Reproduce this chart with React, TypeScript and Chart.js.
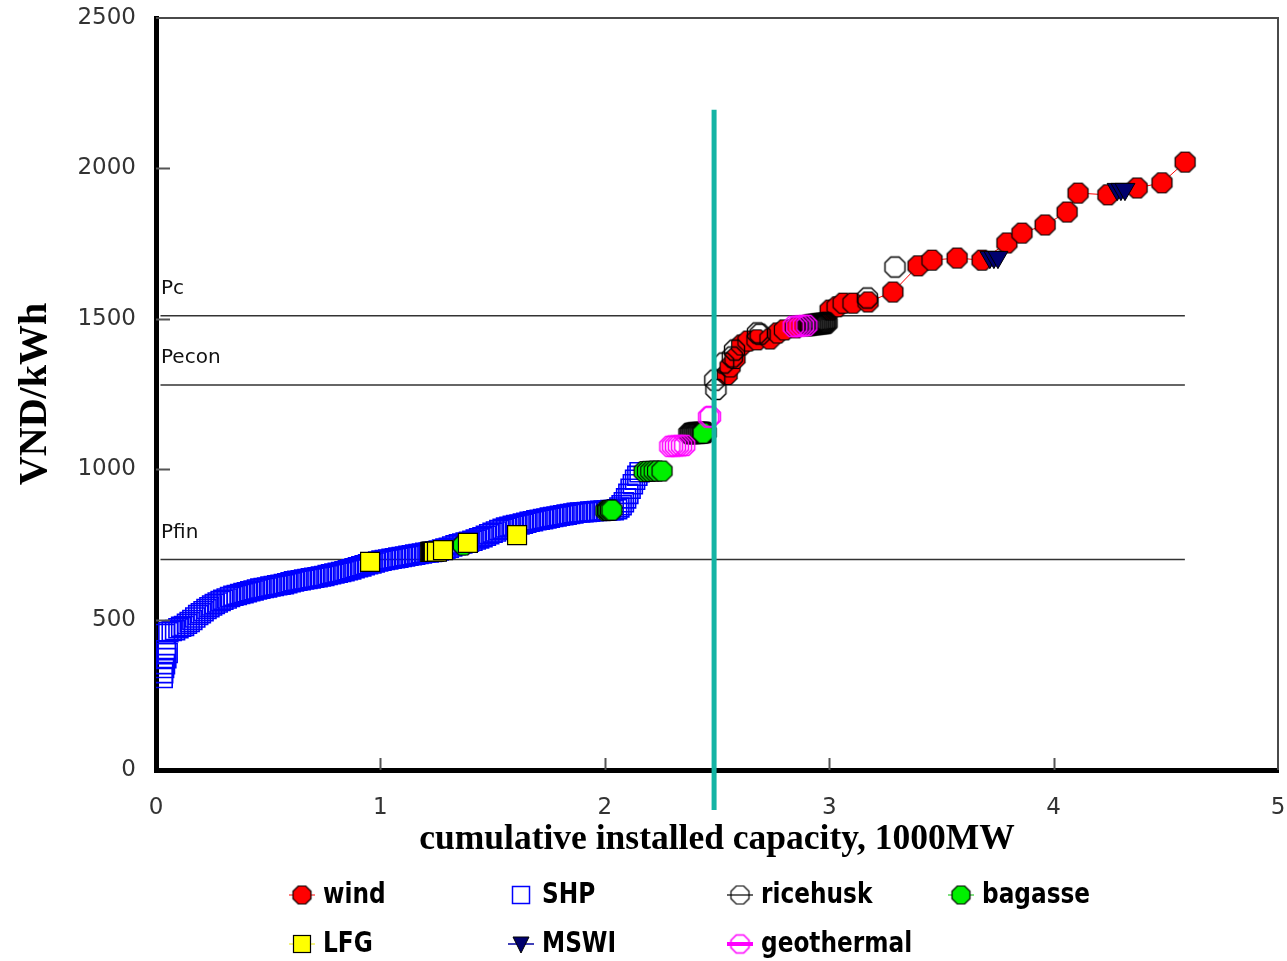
import React, { useEffect, useRef } from "react";
import { Chart, registerables } from "chart.js";

Chart.register(...registerables);

type Pair = [number, number];

// Axis ticks
const xTickValues = [0, 1, 2, 3, 4, 5];
const yTickValues = [0, 500, 1000, 1500, 2000, 2500];

// Supply curve points: [cumulative capacity (1000MW), cost (VND/kWh)]
const shp: Pair[] = [
  [0.030, 306], [0.032, 322], [0.036, 339], [0.040, 352], [0.046, 372], [0.052, 389], [0.044, 398], [0.040, 452], [0.055, 458],
  [0.070, 462], [0.085, 465], [0.100, 471], [0.112, 476], [0.125, 479], [0.138, 486], [0.150, 492], [0.162, 499], [0.175, 507],
  [0.188, 515], [0.200, 521], [0.212, 528], [0.225, 535], [0.238, 541], [0.250, 547], [0.262, 552], [0.275, 557], [0.288, 562],
  [0.300, 566], [0.315, 570], [0.330, 575], [0.345, 579], [0.360, 582], [0.375, 585], [0.390, 588], [0.405, 591], [0.420, 594],
  [0.435, 597], [0.450, 600], [0.465, 603], [0.480, 605], [0.495, 607], [0.510, 610], [0.525, 612], [0.540, 614], [0.555, 616],
  [0.570, 618], [0.585, 621], [0.600, 624], [0.615, 627], [0.630, 629], [0.645, 631], [0.660, 633], [0.675, 635], [0.690, 637],
  [0.705, 639], [0.720, 641], [0.735, 643], [0.750, 645], [0.765, 648], [0.780, 651], [0.795, 653], [0.810, 656], [0.825, 658],
  [0.840, 661], [0.855, 664], [0.870, 667], [0.885, 671], [0.900, 674], [0.915, 677], [0.930, 681], [0.945, 684], [0.960, 687],
  [0.975, 690], [0.990, 693], [1.005, 696], [1.020, 698], [1.035, 700], [1.050, 702], [1.065, 704], [1.080, 706], [1.095, 708],
  [1.110, 710], [1.125, 712], [1.140, 714], [1.155, 716], [1.170, 718], [1.185, 720], [1.200, 722], [1.215, 723], [1.230, 725],
  [1.245, 727], [1.260, 730], [1.275, 733], [1.290, 736], [1.305, 739], [1.320, 743], [1.335, 747], [1.350, 750], [1.365, 753],
  [1.380, 756], [1.395, 759], [1.410, 762], [1.425, 766], [1.440, 770], [1.455, 774], [1.470, 779], [1.485, 784], [1.500, 789],
  [1.515, 793], [1.530, 798], [1.545, 802], [1.560, 806], [1.575, 809], [1.590, 812], [1.605, 814], [1.620, 816], [1.635, 819],
  [1.650, 822], [1.665, 825], [1.680, 827], [1.695, 830], [1.710, 832], [1.725, 834], [1.740, 836], [1.755, 839], [1.770, 841],
  [1.785, 843], [1.800, 845], [1.815, 847], [1.830, 849], [1.845, 851], [1.860, 853], [1.875, 855], [1.890, 856], [1.905, 857],
  [1.920, 858], [1.935, 859], [1.950, 860], [1.965, 861], [1.980, 862], [1.995, 863], [2.010, 863], [2.025, 864], [2.040, 864],
  [2.055, 867], [2.065, 873], [2.075, 880], [2.085, 890], [2.095, 903], [2.105, 918], [2.115, 935], [2.125, 950], [2.135, 965],
  [2.145, 978], [2.155, 990],
];

const lfg: Pair[] = [
  [0.954, 692], [1.222, 725], [1.226, 725], [1.230, 725], [1.234, 725], [1.238, 725], [1.252, 726], [1.279, 731], [1.390, 755], [1.609, 781],
];

const bagasse: Pair[] = [
  [1.370, 748], [2.005, 862], [2.012, 863], [2.018, 863], [2.025, 864], [2.032, 864],
  [2.175, 992], [2.190, 993], [2.205, 993], [2.220, 994], [2.235, 994], [2.255, 994], [2.438, 1120],
];

const ricehusk: Pair[] = [
  [2.375, 1119], [2.380, 1119], [2.384, 1119], [2.389, 1120], [2.393, 1120], [2.398, 1120], [2.402, 1120], [2.407, 1120],
  [2.411, 1121], [2.416, 1121], [2.420, 1121], [2.425, 1121], [2.429, 1121], [2.434, 1122], [2.438, 1122], [2.443, 1122],
  [2.447, 1122], [2.451, 1122],
  [2.490, 1296], [2.495, 1265], [2.530, 1353], [2.568, 1373], [2.578, 1396], [2.680, 1453], [2.692, 1449],
  [2.901, 1478], [2.906, 1478], [2.910, 1479], [2.915, 1479], [2.919, 1480], [2.924, 1480], [2.928, 1481], [2.933, 1481],
  [2.937, 1482], [2.942, 1482], [2.946, 1482], [2.951, 1483], [2.955, 1483], [2.960, 1484], [2.964, 1484], [2.969, 1484],
  [2.973, 1485], [2.978, 1485], [2.982, 1486], [2.986, 1486], [2.990, 1486],
  [3.170, 1569], [3.293, 1672],
];

const geothermal: Pair[] = [
  [2.290, 1076], [2.302, 1077], [2.315, 1077], [2.328, 1078], [2.342, 1078], [2.356, 1079], [2.463, 1173], [2.470, 1175],
  [2.840, 1474], [2.855, 1475], [2.870, 1476], [2.885, 1477], [2.900, 1478],
];

const wind: Pair[] = [
  [2.545, 1315], [2.558, 1340], [2.580, 1368], [2.610, 1413], [2.638, 1426], [2.678, 1430], [2.736, 1433], [2.770, 1453],
  [2.800, 1463], [2.850, 1470], [3.004, 1529], [3.035, 1540], [3.062, 1552], [3.106, 1552], [3.173, 1556], [3.284, 1589],
  [3.396, 1676], [3.458, 1695], [3.570, 1702], [3.681, 1695], [3.792, 1752], [3.859, 1785], [3.962, 1812], [4.060, 1855],
  [4.109, 1918], [4.242, 1912], [4.372, 1935], [4.483, 1952], [4.586, 2021],
];

const mswi: Pair[] = [
  [3.716, 1705], [3.734, 1705], [3.752, 1705], [4.283, 1931], [4.300, 1931], [4.318, 1931],
];

// Reference price levels
const priceNames = ["Pc", "Pecon", "Pfin"];
const priceLevels = [1510, 1280, 700];
const priceLineCapacity = [0.02, 4.585];

// Cut-off capacity marker
const cutoffCapacity = 2.487;
const cutoffCostRange = [-133, 2195];

const toPoints = (pairs: Pair[]) => pairs.map(([x, y]) => ({ x, y }));

function octagon(fill: string | null, stroke: string, lineWidth: number, d: number) {
  const s = Math.ceil(d + 5);
  const c = document.createElement("canvas");
  c.width = s;
  c.height = s;
  const g = c.getContext("2d")!;
  const r = d / 2 / Math.cos(Math.PI / 8);
  g.beginPath();
  for (let k = 0; k < 8; k++) {
    const a = Math.PI / 8 + (k * Math.PI) / 4;
    const px = s / 2 + r * Math.cos(a);
    const py = s / 2 + r * Math.sin(a);
    if (k === 0) g.moveTo(px, py);
    else g.lineTo(px, py);
  }
  g.closePath();
  if (fill) {
    g.fillStyle = fill;
    g.fill();
  }
  g.strokeStyle = stroke;
  g.lineWidth = lineWidth;
  g.stroke();
  return c;
}

// keep the plot area fixed: no extra room for overhanging tick labels
const clearScalePadding = (s: any) => {
  s.paddingTop = 0;
  s.paddingBottom = 0;
  s.paddingLeft = 0;
  s.paddingRight = 0;
};

export default function App() {
  const canvasRef = useRef<HTMLCanvasElement | null>(null);

  useEffect(() => {
    const canvas = canvasRef.current;
    if (!canvas) return;

    const windMark = octagon("#ff0000", "#000000", 1.2, 20);
    const bagasseMark = octagon("#00f000", "#000000", 1.2, 20);
    const riceMark = octagon(null, "#000000", 1.4, 20);
    const geoMark = octagon(null, "#ff00ff", 1.6, 20);

    const legendWind = octagon("#ff0000", "#000000", 1.2, 18);
    const legendBagasse = octagon("#00f000", "#000000", 1.2, 18);
    const legendRice = octagon(null, "#000000", 1.2, 18);
    const legendGeo = octagon(null, "#ff00ff", 1.6, 18);

    const overlay = {
      id: "overlay",
      afterDraw(chart: any) {
        const { ctx, chartArea: a } = chart;
        const xs = chart.scales.x;
        const ys = chart.scales.y;
        ctx.save();

        // thin frame on top and right
        ctx.strokeStyle = "#4a4a4a";
        ctx.lineWidth = 2;
        ctx.beginPath();
        ctx.moveTo(a.left, a.top);
        ctx.lineTo(a.right, a.top);
        ctx.lineTo(a.right, a.bottom);
        ctx.stroke();

        // inward tick marks
        ctx.strokeStyle = "#555";
        ctx.lineWidth = 2;
        ctx.beginPath();
        xTickValues.slice(1, -1).forEach((v) => {
          const px = Math.round(xs.getPixelForValue(v)) + 0.5;
          ctx.moveTo(px, a.bottom);
          ctx.lineTo(px, a.bottom - 12);
        });
        yTickValues.slice(1, -1).forEach((v) => {
          const py = Math.round(ys.getPixelForValue(v)) + 0.5;
          ctx.moveTo(a.left, py);
          ctx.lineTo(a.left + 14, py);
        });
        ctx.stroke();

        // price level names
        ctx.fillStyle = "#111";
        ctx.font = '20px "DejaVu Sans"';
        ctx.textAlign = "left";
        ctx.textBaseline = "middle";
        priceNames.forEach((name, i) => {
          ctx.fillText(name, a.left + 5, ys.getPixelForValue(priceLevels[i]) - 27);
        });

        // legend
        const cols = [302, 521, 740, 961];
        const rows = [895, 944];
        const items = [
          { label: "wind", col: 0, row: 0, kind: "wind" },
          { label: "SHP", col: 1, row: 0, kind: "shp" },
          { label: "ricehusk", col: 2, row: 0, kind: "rice" },
          { label: "bagasse", col: 3, row: 0, kind: "bagasse" },
          { label: "LFG", col: 0, row: 1, kind: "lfg" },
          { label: "MSWI", col: 1, row: 1, kind: "mswi" },
          { label: "geothermal", col: 2, row: 1, kind: "geo" },
        ];
        items.forEach((it) => {
          const cx = cols[it.col];
          const cy = rows[it.row];
          const stub = (color: string, w: number) => {
            ctx.strokeStyle = color;
            ctx.lineWidth = w;
            ctx.beginPath();
            ctx.moveTo(cx - 13, cy);
            ctx.lineTo(cx + 13, cy);
            ctx.stroke();
          };
          const img = (m: HTMLCanvasElement) => ctx.drawImage(m, cx - m.width / 2, cy - m.height / 2);
          if (it.kind === "wind") { stub("#ff0000", 1); img(legendWind); }
          if (it.kind === "bagasse") { stub("#00c000", 1); img(legendBagasse); }
          if (it.kind === "rice") { stub("#000000", 1.2); img(legendRice); }
          if (it.kind === "geo") { stub("#ff00ff", 4); img(legendGeo); }
          if (it.kind === "shp") {
            ctx.strokeStyle = "#0000ff";
            ctx.lineWidth = 1.5;
            ctx.strokeRect(cx - 8.5, cy - 8.5, 17, 17);
          }
          if (it.kind === "lfg") {
            stub("#e8e800", 1);
            ctx.fillStyle = "#ffff00";
            ctx.fillRect(cx - 8.5, cy - 8.5, 17, 17);
            ctx.strokeStyle = "#000";
            ctx.lineWidth = 1.2;
            ctx.strokeRect(cx - 8.5, cy - 8.5, 17, 17);
          }
          if (it.kind === "mswi") {
            stub("#0000a0", 1.5);
            ctx.fillStyle = "#00006e";
            ctx.strokeStyle = "#000";
            ctx.lineWidth = 1;
            ctx.beginPath();
            ctx.moveTo(cx - 8, cy - 7);
            ctx.lineTo(cx + 8, cy - 7);
            ctx.lineTo(cx, cy + 9);
            ctx.closePath();
            ctx.fill();
            ctx.stroke();
          }
          ctx.save();
          ctx.translate(cx + 21, cy + 1);
          ctx.scale(0.83, 1);
          ctx.fillStyle = "#000";
          ctx.font = 'bold 28px "DejaVu Sans"';
          ctx.textAlign = "left";
          ctx.textBaseline = "middle";
          ctx.fillText(it.label, 0, 0);
          ctx.restore();
        });

        ctx.restore();
      },
    };

    const priceDatasets = priceLevels.map((level, i) => ({
      label: priceNames[i],
      data: priceLineCapacity.map((x) => ({ x, y: level })),
      showLine: true,
      borderColor: "#333333",
      borderWidth: 1.5,
      pointRadius: 0,
      order: 9,
    }));

    const chart = new Chart(canvas, {
      type: "scatter",
      data: {
        datasets: [
          {
            label: "cut-off",
            data: cutoffCostRange.map((y) => ({ x: cutoffCapacity, y })),
            showLine: true,
            borderColor: "#14b4a4",
            borderWidth: 5,
            pointRadius: 0,
            clip: false,
            order: 0,
          } as any,
          {
            label: "MSWI",
            data: toPoints(mswi),
            pointStyle: "triangle",
            rotation: 180,
            pointRadius: 11.5,
            backgroundColor: "#00006e",
            borderColor: "#000000",
            borderWidth: 1,
            order: 1,
          },
          {
            label: "geothermal",
            data: toPoints(geothermal),
            pointStyle: geoMark,
            order: 2,
          },
          {
            label: "LFG",
            data: toPoints(lfg),
            pointStyle: "rect",
            pointRadius: 13.4,
            backgroundColor: "#ffff00",
            borderColor: "#000000",
            borderWidth: 1.2,
            order: 3,
          },
          {
            label: "bagasse",
            data: toPoints(bagasse),
            pointStyle: bagasseMark,
            order: 4,
          },
          {
            label: "ricehusk",
            data: toPoints(ricehusk),
            pointStyle: riceMark,
            order: 5,
          },
          {
            label: "wind",
            data: toPoints(wind),
            pointStyle: windMark,
            showLine: true,
            borderColor: "#ff0000",
            borderWidth: 1,
            order: 6,
          },
          {
            label: "SHP",
            data: toPoints(shp),
            pointStyle: "rect",
            pointRadius: 13.4,
            backgroundColor: "rgba(0,0,0,0)",
            borderColor: "#0000ff",
            borderWidth: 1.6,
            order: 7,
          },
          ...priceDatasets,
        ] as any,
      },
      options: {
        responsive: false,
        animation: false,
        devicePixelRatio: 1,
        events: [],
        layout: { autoPadding: false, padding: { top: 18, right: 9, bottom: 91, left: 0 } },
        plugins: { legend: { display: false }, tooltip: { enabled: false } },
        scales: {
          x: {
            type: "linear",
            position: "bottom",
            min: 0,
            max: 5,
            afterFit: (s: any) => { s.height = 100; clearScalePadding(s); },
            afterBuildTicks: (s: any) => { s.ticks = xTickValues.map((v) => ({ value: v })); },
            ticks: {
              padding: 24,
              color: "#333",
              font: { family: '"DejaVu Sans"', size: 23 },
              callback: (v: any) => String(v),
            },
            grid: { display: false, drawTicks: false },
            border: { display: true, color: "#000", width: 5 },
            title: {
              display: true,
              text: "cumulative installed capacity, 1000MW",
              color: "#000",
              font: { family: '"Liberation Serif"', size: 35.5, weight: "bold" },
              padding: { top: 0, bottom: 9 },
            },
          },
          y: {
            type: "linear",
            min: 0,
            max: 2500,
            afterFit: (s: any) => { s.width = 156; clearScalePadding(s); },
            afterBuildTicks: (s: any) => { s.ticks = yTickValues.map((v) => ({ value: v })); },
            ticks: {
              padding: 20,
              color: "#333",
              font: { family: '"DejaVu Sans"', size: 23 },
              callback: (v: any) => String(v),
            },
            grid: { display: false, drawTicks: false },
            border: { display: true, color: "#000", width: 5 },
            title: {
              display: true,
              text: "VND/kWh",
              color: "#000",
              font: { family: '"Liberation Serif"', size: 40, weight: "bold" },
              padding: { top: 12, bottom: 0 },
            },
          },
        },
      } as any,
      plugins: [overlay],
    });

    return () => chart.destroy();
  }, []);

  return (
    <div style={{ position: "absolute", left: 0, top: 0, width: 1287, height: 961, background: "#fff" }}>
      <canvas ref={canvasRef} width={1287} height={961} style={{ display: "block" }} />
    </div>
  );
}
